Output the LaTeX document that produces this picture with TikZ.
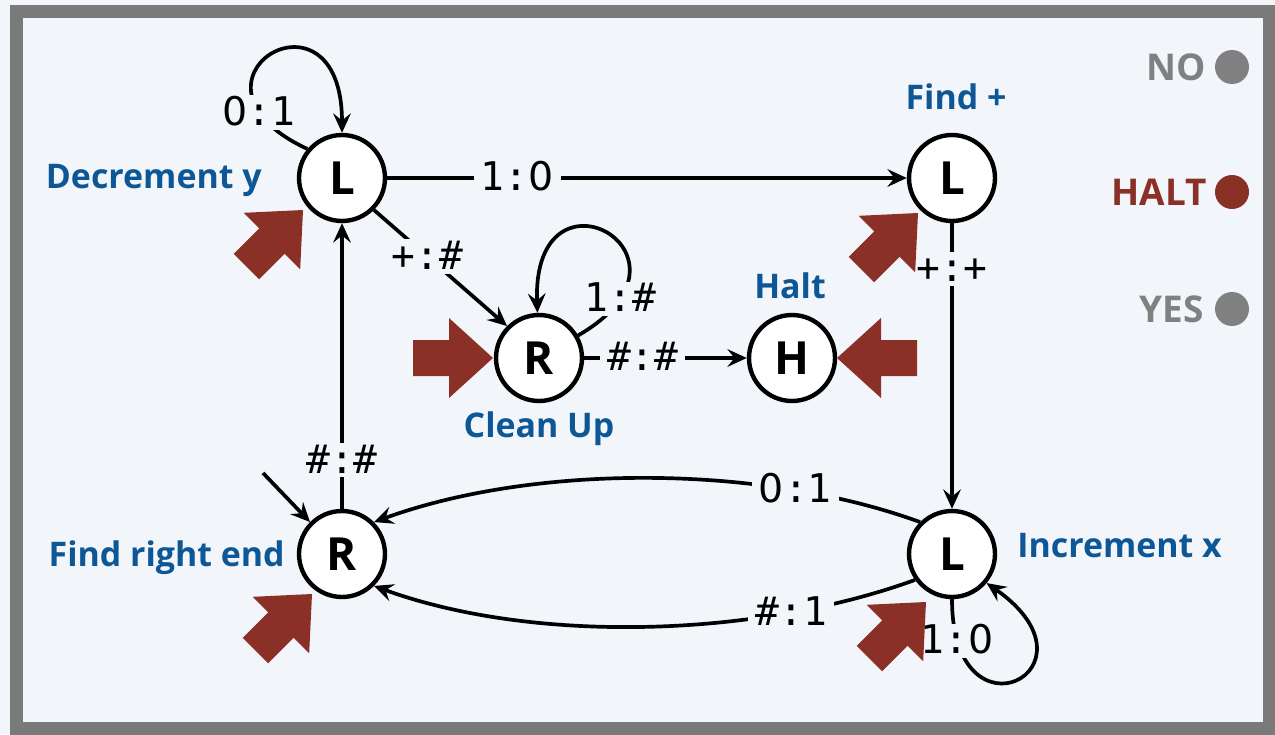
\documentclass[tikz,border=0pt]{standalone}
\usepackage{fontspec}
\setmainfont{Open Sans}
\newfontfamily\monofonte{DejaVu Sans Mono}
\newfontfamily\zerofonte{DejaVu Sans}
\newcommand\zero{{\zerofonte 0}}
\usetikzlibrary{arrows.meta}

\definecolor{fundo}{RGB}{242,245,249}
\definecolor{moldura}{RGB}{122,122,122}
\definecolor{azul}{RGB}{14,87,150}
\definecolor{vermelho}{RGB}{139,48,38}
\definecolor{cinza}{RGB}{128,128,128}

\begin{document}
\begin{tikzpicture}[
		x=0.02cm,
		y=0.02cm,
		>={Stealth[length=11pt, width=10pt, inset=4pt]},
		estado/.style={
			draw,
			circle,
			minimum size=1.72cm,
			inner sep=0pt,
			line width=2.5pt,
			fill=white,
			font=\bfseries\fontsize{26}{26}\selectfont
		},
		linha/.style={
			line width=2.1pt
		},
		rotulo/.style={
			fill=fundo,
			inner xsep=4pt,
			inner ysep=1pt,
			text height=16pt,
			text depth=1.5pt,
			font=\monofonte\fontsize{22.5}{22.5}\selectfont
		},
		nome/.style={
			text=azul,
			inner sep=0pt,
			font=\bfseries\fontsize{19.3}{19.3}\selectfont
		},
		legenda/.style={
			inner sep=0pt,
			font=\bfseries\fontsize{21}{21}\selectfont
		},
		ponto/.style={
			circle,
			inner sep=0pt,
			minimum size=0.68cm
		},
		seta/.pic={
			\fill[vermelho] (0,0) -- (-44,40) -- (-44,18) -- (-80,18)
			-- (-80,-18) -- (-44,-18) -- (-44,-40) -- cycle;
		}
		]
		
		\useasboundingbox (0,0) rectangle (1275,-734);
		\fill[fundo] (0,0) rectangle (1275,-734);
		\draw[moldura, line width=0.26cm] (16.5,-11.5) rectangle (1269.5,-728.5);
		
		%Estados
		\node[estado] (Dec) at (342,-178) {L};
		\node[estado] (Find) at (952,-178) {L};
		\node[estado] (Clean) at (539,-358) {R};
		\node[estado] (Halt) at (792,-358) {H};
		\node[estado] (Right) at (342,-554) {R};
		\node[estado] (Inc) at (952,-554) {L};
		
		\node[nome, anchor=base east] (nDec) at (262,-188) {Decrement y};
		\node[nome, anchor=base] (nFind) at (956,-109) {Find +};
		\node[nome, anchor=base] (nHalt) at (790,-298) {Halt};
		\node[nome, anchor=base] (nClean) at (539,-437) {Clean Up};
		\node[nome, anchor=base east] (nRight) at (285,-566) {Find right end};
		\node[nome, anchor=base west] (nInc) at (1017,-557) {Increment x};
		
		%Linhas
		\coordinate (ini) at (263,-473);
		\draw[->, linha] (ini) -- (Right.135);
		
		\draw[->, linha] (Dec.east) -- node[rotulo, pos=0.25] {1:\zero} (Find.west);
		\draw[->, linha] (Find.south) -- node[rotulo, pos=0.16] {+:+} (Inc.north);
		\draw[->, linha] (Right.north) -- node[rotulo, pos=0.17] {\#:\#} (Dec.south);
		\draw[->, linha] (Dec.-45) -- node[rotulo, pos=0.4] {+:\#} (Clean.135);
		\draw[->, linha] (Clean.east) -- node[rotulo, pos=0.36] {\#:\#} (Halt.west);
		
		\draw[->, linha] (Inc.135) to[out=160, in=20, looseness=0.8]
		node[rotulo, pos=0.24] {\zero:1} (Right.45);
		\draw[->, linha] (Inc.215) to[out=200, in=-20, looseness=0.8]
		node[rotulo, pos=0.24] {\#:1} (Right.-45);
		
		\draw[->, linha] (Dec.140) .. controls +(155:160) and +(90:160) .. (Dec.90)
		node[rotulo, pos=0.17] {\zero:1};
		\draw[->, linha] (Clean.30) .. controls +(30:160) and +(92:160) .. (Clean.92)
		node[rotulo, pos=0.15] {1:\#};
		\draw[->, linha] (Inc.-90) .. controls +(-90:150) and +(-35:150) .. (Inc.-40)
		node[rotulo, pos=0.11] {1:\zero};
		
		%Setas grandes
		\pic[rotate=45] at (303,-210) {seta};
		\pic[rotate=45] at (918,-213) {seta};
		\pic at (493,-358) {seta};
		\pic[rotate=180] at (837,-358) {seta};
		\pic[rotate=45] at (312,-594) {seta};
		\pic[rotate=45] at (926,-602) {seta};
		
		%Legenda
		\node[ponto, fill=cinza] (pNo) at (1232,-67) {};
		\node[ponto, fill=vermelho] (pHalt) at (1232,-192) {};
		\node[ponto, fill=cinza] (pYes) at (1232,-309) {};
		\node[legenda, text=cinza, anchor=east] (tNo) at (1206,-67) {NO};
		\node[legenda, text=vermelho, anchor=east] (tHalt) at (1207,-192) {HALT};
		\node[legenda, text=cinza, anchor=east] (tYes) at (1204,-309) {YES};
		
	\end{tikzpicture}
\end{document}
